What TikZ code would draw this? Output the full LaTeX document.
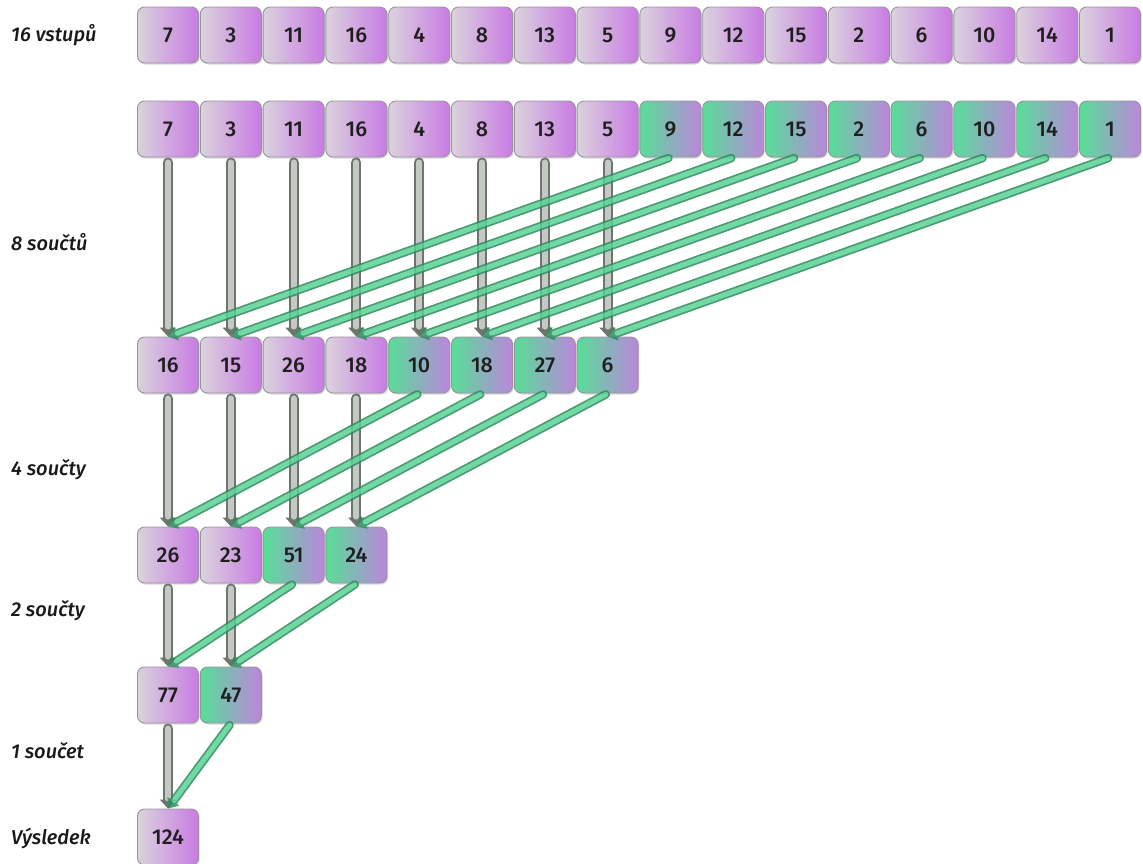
\documentclass[tikz,border=0pt]{standalone}
\usepackage{fontspec}
\setmainfont{Fira Sans}
\newfontfamily\numfont{Fira Sans Medium}
\newfontfamily\labfont{Fira Sans Medium Italic}
\usetikzlibrary{arrows.meta,shadows}

\definecolor{lilaL}{HTML}{DAD3DD}
\definecolor{lilaR}{HTML}{C97BE3}
\definecolor{zelL}{HTML}{57DE97}
\definecolor{zelM}{HTML}{92B2BA}
\definecolor{zelR}{HTML}{BC86DC}
\definecolor{okraj}{HTML}{9A92A2}
\definecolor{sedaO}{HTML}{6E746E}
\definecolor{sedaV}{HTML}{C4C9C4}
\definecolor{zelO}{HTML}{2E8A5D}
\definecolor{zelV}{HTML}{58D294}

\tikzset{
  cell/.style={draw=okraj, line width=0.9pt, rounded corners=7pt,
    minimum width=61pt, minimum height=56pt, inner sep=0pt,
    font=\numfont\fontsize{21.5}{21.5}\selectfont, text=black!88,
    drop shadow={shadow xshift=1.2pt, shadow yshift=-1.5pt, opacity=0.25, fill=black!60}},
  fialova/.style={cell, left color=lilaL, right color=lilaR},
  zelena/.style={cell, left color=zelL, middle color=zelM, right color=zelR},
  popis/.style={anchor=west, inner sep=0pt, font=\labfont\fontsize{20}{20}\selectfont, text=black!90},
  sedaTubus/.style={line width=10pt, draw=sedaO, line cap=round,
    -{Triangle[length=9pt,width=16pt]}, shorten <=5pt, shorten >=0pt},
  sedaJadro/.style={line width=6pt, draw=sedaV, line cap=round, shorten <=5pt, shorten >=10pt},
  zelTubus/.style={line width=8.5pt, draw=zelO, line cap=round,
    -{Triangle[length=9pt,width=14pt]}, shorten <=2pt, shorten >=0pt},
  zelJadro/.style={line width=5pt, draw=zelV, line cap=round, shorten <=2pt, shorten >=10pt},
}

\newcommand{\sedasipka}[2]{%
  \draw[sedaTubus] (#1.south) -- (#2.north);
  \draw[sedaJadro] (#1.south) -- (#2.north);}
\newcommand{\zelsipka}[2]{%
  \begin{scope}[transparency group, opacity=0.85]
    \draw[zelTubus] (#1.south) -- (#2.north);
    \draw[zelJadro] (#1.south) -- (#2.north);
  \end{scope}}

\begin{document}
\begin{tikzpicture}[x=1pt, y=-1pt]
  \useasboundingbox (0,0) rectangle (1143,863);

  % row labels
  \node[popis] (p1) at (11,35)  {16 vstupů};
  \node[popis] (p2) at (11,242) {8 součtů};
  \node[popis] (p3) at (11,470) {4 součty};
  \node[popis] (p4) at (11,611) {2 součty};
  \node[popis] (p5) at (11,751) {1 součet};
  \node[popis] (p6) at (11,838) {Výsledek};

  % inputs
  \foreach \v [count=\j] in {7,3,11,16,4,8,13,5,9,12,15,2,6,10,14,1}
    \node[fialova] (a\j) at ({168+62.8*(\j-1)},35) {\v};

  % inputs split into two halves
  \foreach \v [count=\j] in {7,3,11,16,4,8,13,5}
    \node[fialova] (b\j) at ({168+62.8*(\j-1)},129) {\v};
  \foreach \v [count=\j from 9] in {9,12,15,2,6,10,14,1}
    \node[zelena] (b\j) at ({168+62.8*(\j-1)},129) {\v};

  % 8 sums
  \foreach \v [count=\j] in {16,15,26,18}
    \node[fialova] (c\j) at ({168+62.8*(\j-1)},365) {\v};
  \foreach \v [count=\j from 5] in {10,18,27,6}
    \node[zelena] (c\j) at ({168+62.8*(\j-1)},365) {\v};

  % 4 sums
  \foreach \v [count=\j] in {26,23}
    \node[fialova] (d\j) at ({168+62.8*(\j-1)},555) {\v};
  \foreach \v [count=\j from 3] in {51,24}
    \node[zelena] (d\j) at ({168+62.8*(\j-1)},555) {\v};

  % 2 sums
  \node[fialova] (e1) at (168,695) {77};
  \node[zelena]  (e2) at (230.8,695) {47};

  % result
  \node[fialova] (f1) at (168,837) {124};

  % straight (gray) connectors
  \foreach \j in {1,...,8} { \sedasipka{b\j}{c\j} }
  \foreach \j in {1,...,4} { \sedasipka{c\j}{d\j} }
  \foreach \j in {1,2} { \sedasipka{d\j}{e\j} }
  \sedasipka{e1}{f1}

  % folded (green) connectors
  \foreach \j [evaluate=\j as \k using int(\j+8)] in {1,...,8} { \zelsipka{b\k}{c\j} }
  \foreach \j [evaluate=\j as \k using int(\j+4)] in {1,...,4} { \zelsipka{c\k}{d\j} }
  \foreach \j [evaluate=\j as \k using int(\j+2)] in {1,2} { \zelsipka{d\k}{e\j} }
  \zelsipka{e2}{f1}
\end{tikzpicture}
\end{document}
